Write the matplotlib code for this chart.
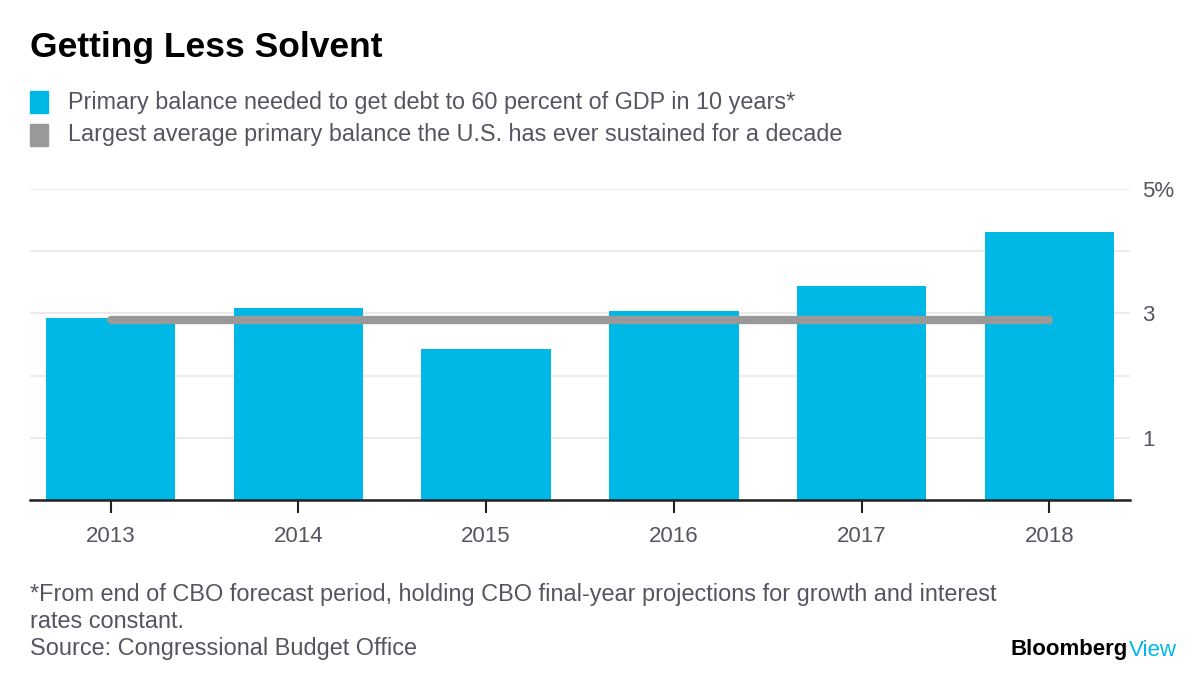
import matplotlib.pyplot as plt
import numpy as np

years = ["2013", "2014", "2015", "2016", "2017", "2018"]
needed = [2.92, 3.08, 2.43, 3.04, 3.44, 4.31]
largest_avg = 2.89

blue = "#00B8E6"
gray = "#999999"
txt = "#555560"

plt.rcParams["font.family"] = ["Liberation Sans", "DejaVu Sans"]

fig = plt.figure(figsize=(12, 6.76), dpi=100)
ax = fig.add_axes([0.025, 1 - 500 / 676, 0.9167, 311 / 676])

x = np.arange(len(years))
ax.bar(x, needed, width=0.69, color=blue, zorder=2)
ax.plot([x[0], x[-1]], [largest_avg, largest_avg], color=gray, lw=6,
        solid_capstyle="round", zorder=3)

ax.set_xlim(-0.43, 5.43)
ax.set_ylim(0, 5)
ax.set_yticks([0, 1, 2, 3, 4, 5])
ax.set_yticklabels(["", "1", "", "3", "", "5%"])
ax.yaxis.tick_right()
ax.grid(axis="y", color="#EBEBEB", lw=1.5, zorder=0)
ax.tick_params(axis="y", length=0, labelsize=16, labelcolor=txt, pad=9)
ax.set_xticks(x)
ax.set_xticklabels(years)
ax.tick_params(axis="x", length=9, width=1.5, color="#222222",
               labelsize=16, labelcolor=txt, pad=10)
for s in ["top", "left", "right"]:
    ax.spines[s].set_visible(False)
ax.spines["bottom"].set_color("#222222")
ax.spines["bottom"].set_linewidth(1.8)
ax.spines["bottom"].set_zorder(4)

fig.text(30 / 1200, 1 - 47 / 676, "Getting Less Solvent", fontsize=25.5,
         fontweight="bold", va="center", ha="left", color="black")

legend_items = [
    (blue, "Primary balance needed to get debt to 60 percent of GDP in 10 years*"),
    (gray, "Largest average primary balance the U.S. has ever sustained for a decade"),
]
for i, (c, lab) in enumerate(legend_items):
    yc = 102 + i * 33
    fig.patches.append(plt.Rectangle((30 / 1200, 1 - (yc + 11) / 676), 18 / 1200,
                                     22 / 676, transform=fig.transFigure,
                                     color=c))
    fig.text(68 / 1200, 1 - yc / 676, lab, fontsize=16.8, color=txt,
             va="center", ha="left")

notes = [
    "*From end of CBO forecast period, holding CBO final-year projections for growth and interest",
    "rates constant.",
    "Source: Congressional Budget Office",
]
for i, n in enumerate(notes):
    fig.text(30 / 1200, 1 - (595 + i * 27) / 676, n, fontsize=16.9, color=txt,
             va="center", ha="left")

fig.text(1177 / 1200, 1 - 650 / 676, "Bloomberg", fontsize=16, fontweight="bold",
         color="black", va="center", ha="right")
t = fig.text(1177 / 1200, 1 - 650 / 676, "View", fontsize=16, color=blue,
             va="center", ha="right")
fig.canvas.draw()
bb = t.get_window_extent()
fig.texts[-2].set_x((bb.x0 - 1) / 1200)

fig.savefig("out.png", dpi=100)
